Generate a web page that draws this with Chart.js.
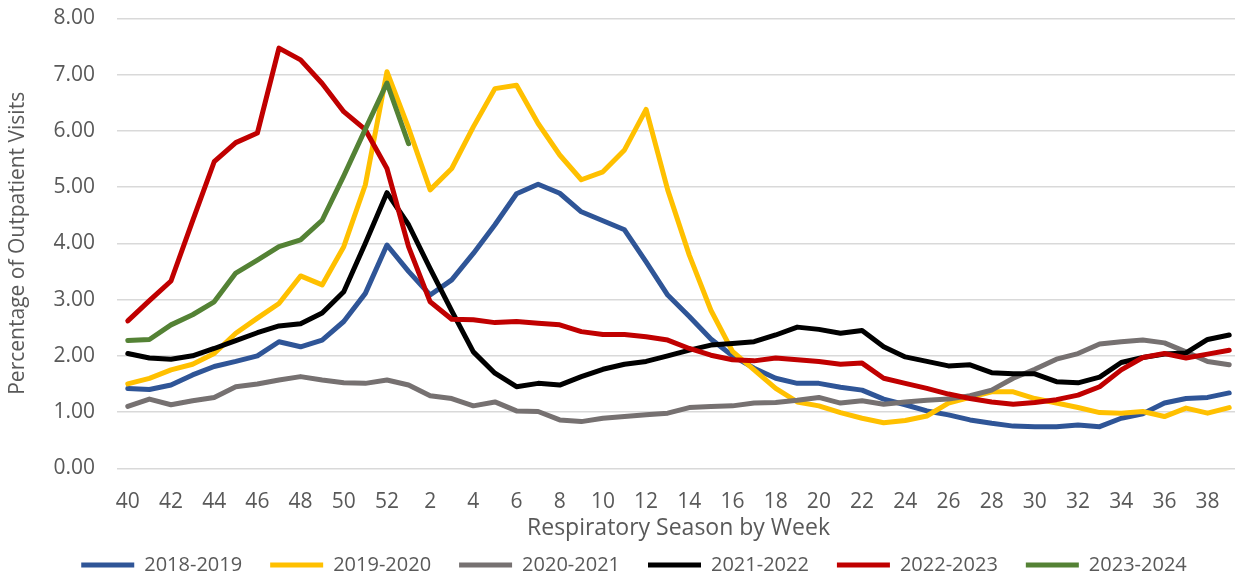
<!DOCTYPE html>
<html><head><meta charset="utf-8">
<script src="https://cdn.jsdelivr.net/npm/chart.js@4"></script>
<style>
html,body{margin:0;padding:0;overflow:hidden;background:#fff;width:1235px;height:575px}
#wrap{width:1240px;height:575px}
</style></head>
<body><div id="wrap"><canvas id="c" width="1240" height="575"></canvas></div>
<script>
const weeks = ['40','41','42','43','44','45','46','47','48','49','50','51','52','1','2','3','4','5','6','7','8','9','10','11','12','13','14','15','16','17','18','19','20','21','22','23','24','25','26','27','28','29','30','31','32','33','34','35','36','37','38','39'];
const yTicks = [0,1,2,3,4,5,6,7,8];
const seasons = ['2018-2019','2019-2020','2020-2021','2021-2022','2022-2023','2023-2024'];
const s2018 = [1.42,1.40,1.48,1.66,1.81,1.90,2.00,2.25,2.16,2.28,2.61,3.11,3.97,3.50,3.08,3.35,3.82,4.33,4.88,5.05,4.89,4.56,4.40,4.24,3.67,3.08,2.70,2.30,2.00,1.78,1.60,1.51,1.51,1.44,1.39,1.23,1.13,1.02,0.95,0.86,0.80,0.75,0.74,0.74,0.77,0.74,0.89,0.97,1.16,1.24,1.26,1.34];
const s2019 = [1.50,1.60,1.75,1.85,2.04,2.40,2.67,2.93,3.42,3.26,3.94,5.04,7.05,6.05,4.95,5.33,6.07,6.75,6.81,6.13,5.57,5.13,5.27,5.66,6.38,4.95,3.79,2.81,2.08,1.75,1.42,1.18,1.11,0.99,0.89,0.81,0.85,0.93,1.16,1.26,1.36,1.36,1.24,1.16,1.08,0.99,0.98,1.01,0.92,1.07,0.98,1.08];
const s2020 = [1.10,1.23,1.13,1.20,1.26,1.45,1.50,1.57,1.63,1.57,1.52,1.51,1.57,1.48,1.29,1.24,1.11,1.18,1.02,1.01,0.86,0.83,0.89,0.92,0.95,0.98,1.08,1.10,1.11,1.16,1.17,1.21,1.26,1.16,1.20,1.14,1.18,1.21,1.23,1.29,1.39,1.60,1.76,1.94,2.04,2.21,2.25,2.28,2.23,2.07,1.90,1.84];
const s2021 = [2.04,1.96,1.94,2.00,2.13,2.27,2.41,2.53,2.57,2.76,3.14,4.00,4.90,4.33,3.55,2.80,2.07,1.69,1.45,1.51,1.48,1.63,1.76,1.85,1.90,2.00,2.10,2.19,2.22,2.25,2.37,2.51,2.47,2.40,2.45,2.16,1.98,1.90,1.82,1.84,1.70,1.68,1.68,1.54,1.52,1.62,1.88,1.97,2.03,2.05,2.29,2.37];
const s2022 = [2.62,2.98,3.33,4.40,5.45,5.79,5.96,7.47,7.26,6.84,6.34,6.02,5.33,3.94,2.96,2.65,2.64,2.59,2.61,2.58,2.55,2.43,2.38,2.38,2.34,2.28,2.13,2.01,1.93,1.91,1.96,1.93,1.90,1.85,1.87,1.60,1.51,1.42,1.32,1.24,1.18,1.14,1.17,1.22,1.30,1.45,1.75,1.97,2.04,1.96,2.03,2.10];
const s2023 = [2.27,2.29,2.55,2.73,2.96,3.47,3.70,3.94,4.06,4.41,5.20,6.03,6.85,5.77];
const colors = ['#2F5597','#FFC000','#767171','#000000','#C00000','#548235'];
const seriesValues = [s2018,s2019,s2020,s2021,s2022,s2023];

const FONT = '"Open Sans", Lato, sans-serif';
const TXT = '#595959';

const datasets = seasons.map((name,i)=>({
  label:name,
  data:seriesValues[i],
  borderColor:colors[i],
  backgroundColor:colors[i],
  borderWidth:5,
  pointRadius:0,
  pointHoverRadius:0,
  tension:0,
  fill:false,
  borderJoinStyle:'round',
  borderCapStyle:'round',
  order:seasons.length - i
}));

new Chart(document.getElementById('c'), {
  type:'line',
  data:{labels:weeks, datasets},
  options:{
    responsive:false,
    animation:false,
    devicePixelRatio:1,
    layout:{padding:{top:18.3,left:28,right:0,bottom:-10}},
    plugins:{
      tooltip:{enabled:false},
      legend:{
        position:'bottom',
        labels:{
          font:{family:FONT,size:20},
          color:TXT,
          boxWidth:53,
          boxHeight:5,
          padding:28,
          generateLabels:(chart)=>chart.data.datasets.map((d,i)=>({
            text:d.label, fillStyle:d.borderColor, strokeStyle:d.borderColor,
            lineWidth:0, hidden:false, datasetIndex:i, fontColor:TXT
          }))
        }
      }
    },
    scales:{
      x:{
        offset:true,
        grid:{display:false,drawTicks:false,offset:true},
        border:{display:false},
        afterFit:(s)=>{ s.height = 58.7; s.paddingLeft = 0; s.paddingRight = 0; },
        ticks:{autoSkip:false,maxRotation:0,minRotation:0,color:TXT,font:{family:FONT,size:21},padding:21,
          callback:(v,i)=> i%2===0 ? weeks[i] : ''},
        title:{display:true,text:'Respiratory Season by Week',color:TXT,font:{family:FONT,size:23},padding:{top:0,bottom:-15}}
      },
      y:{
        min:0,max:8,
        afterBuildTicks:(s)=>{ s.ticks = yTicks.map(v=>({value:v})); },
        afterFit:(s)=>{ s.width = 89; s.paddingTop = 0; s.paddingBottom = 0; },
        ticks:{color:TXT,font:{family:FONT,size:21},padding:22,callback:(v)=>Number(v).toFixed(2)},
        grid:{color:'#d9d9d9',lineWidth:1.5,drawTicks:false},
        border:{display:false},
        title:{display:true,text:'Percentage of Outpatient Visits',color:TXT,font:{family:FONT,size:21},padding:{top:-23,bottom:0}}
      }
    }
  }
});
</script>
</body></html>
